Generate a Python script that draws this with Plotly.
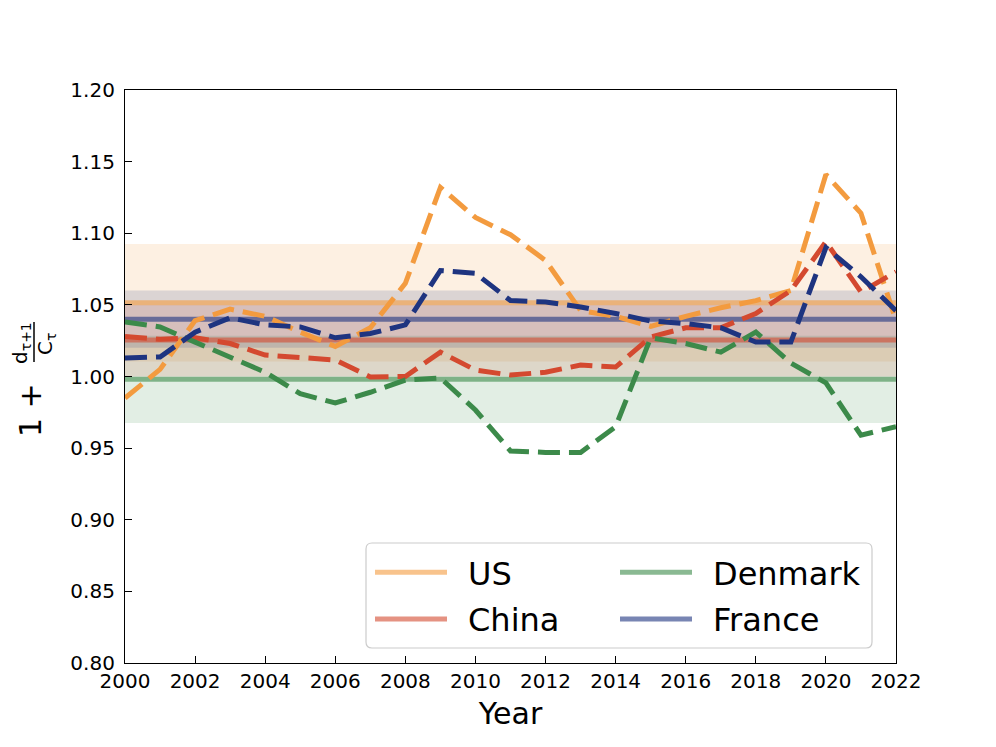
import plotly.graph_objects as go

years = list(range(2000, 2023))

us = [0.985, 1.005, 1.039, 1.047, 1.042, 1.031, 1.021, 1.034, 1.065, 1.132, 1.111, 1.099,
      1.081, 1.046, 1.042, 1.035, 1.042, 1.048, 1.053, 1.060, 1.141, 1.114, 1.039]
china = [1.028, 1.026, 1.027, 1.023, 1.015, 1.0136, 1.0115, 0.9997, 1.000, 1.017, 1.0045, 1.001,
         1.003, 1.008, 1.0066, 1.0276, 1.034, 1.034, 1.044, 1.060, 1.094, 1.059, 1.073]
denmark = [1.038, 1.0346, 1.024, 1.0136, 1.003, 0.988, 0.9815, 0.989, 0.9975, 0.999, 0.9766, 0.948,
           0.947, 0.947, 0.965, 1.027, 1.023, 1.017, 1.031, 1.0094, 0.9955, 0.959, 0.965]
france = [1.013, 1.0136, 1.031, 1.041, 1.036, 1.0346, 1.027, 1.030, 1.036, 1.074, 1.072, 1.053,
          1.052, 1.0485, 1.044, 1.0387, 1.037, 1.034, 1.024, 1.024, 1.090, 1.0696, 1.046]

countries = ["US", "China", "Denmark", "France"]
series = [us, china, denmark, france]
means = [1.0515, 1.0255, 0.998, 1.040]
band_lo = [1.0105, 1.000, 0.9675, 1.020]
band_hi = [1.0925, 1.050, 1.0285, 1.060]
colors = [(243, 155, 63), (212, 73, 47), (60, 138, 74), (30, 52, 128)]
legend_ids = ["legend", "legend", "legend2", "legend2"]

x_ticks = list(range(2000, 2023, 2))
y_ticks = [0.80, 0.85, 0.90, 0.95, 1.00, 1.05, 1.10, 1.15, 1.20]


def rgba(c, a):
    return f"rgba({c[0]},{c[1]},{c[2]},{a})"


fig = go.Figure()
x0, x1 = years[0], years[-1]

for name, lo, hi, c in zip(countries, band_lo, band_hi, colors):
    fig.add_trace(go.Scatter(x=[x0, x1, x1, x0, x0], y=[lo, lo, hi, hi, lo], fill="toself",
                             fillcolor=rgba(c, 0.15), line=dict(width=0), mode="lines",
                             hoverinfo="skip", showlegend=False))

for name, m, c, lg in zip(countries, means, colors, legend_ids):
    fig.add_trace(go.Scatter(x=[x0, x1], y=[m, m], mode="lines", name="\u2002" + name,
                             legend=lg, legendgroup=name,
                             line=dict(color=rgba(c, 0.6), width=5)))

for name, s, c in zip(countries, series, colors):
    fig.add_trace(go.Scatter(x=years, y=s, mode="lines", showlegend=False,
                             line=dict(color=rgba(c, 1), width=5, dash="22px,9px")))

# page offset of the figure inside the browser (body margin)
OFF = 8
W, H = 988, 739
L, R, T, B = 117, 100, 82, 84
pw, ph = W - L - R, H - T - B


def px2paper(px, py):
    fx, fy = px - OFF, py - OFF
    return (fx - L) / pw, (H - B - fy) / ph


font_family = "DejaVu Sans"
annotations = []


def add_label(px, py, text, size):
    ax, ay = px2paper(px, py)
    annotations.append(dict(x=ax, y=ay, xref="paper", yref="paper", text=text, showarrow=False,
                            textangle=-90, xanchor="center", yanchor="middle",
                            font=dict(size=size, family=font_family, color="black")))


add_label(30, 410, "1 +", 30)
add_label(21, 343, "d<sub>τ+1</sub>", 20)
add_label(46, 344, "C<sub>τ</sub>", 20)
bx, by0 = px2paper(34, 322)
_, by1 = px2paper(34, 362)

# legend frame (rounded rectangle)
fx0, fy1 = px2paper(366, 543)
fx1, fy0 = px2paper(872, 648)
rx = 6 / pw
ry = 6 / ph
frame_path = (f"M {fx0 + rx},{fy0} L {fx1 - rx},{fy0} Q {fx1},{fy0} {fx1},{fy0 + ry} "
              f"L {fx1},{fy1 - ry} Q {fx1},{fy1} {fx1 - rx},{fy1} "
              f"L {fx0 + rx},{fy1} Q {fx0},{fy1} {fx0},{fy1 - ry} "
              f"L {fx0},{fy0 + ry} Q {fx0},{fy0} {fx0 + rx},{fy0} Z")

l1x, l1y = px2paper(370, 545)
l2x, _ = px2paper(615, 545)

legend_common = dict(orientation="v", yanchor="top", xanchor="left", itemwidth=72,
                     font=dict(size=32), bgcolor="rgba(0,0,0,0)", borderwidth=0,
                     tracegroupgap=2)

fig.update_layout(
    width=W, height=H,
    margin=dict(l=L, r=R, t=T, b=B),
    paper_bgcolor="white", plot_bgcolor="white",
    font=dict(family=font_family, color="black"),
    annotations=annotations,
    shapes=[dict(type="line", xref="paper", yref="paper", x0=bx, x1=bx, y0=by0, y1=by1,
                 line=dict(color="black", width=1.5)),
            dict(type="path", xref="paper", yref="paper", path=frame_path, layer="above",
                 fillcolor="rgba(255,255,255,0.8)", line=dict(color="#cccccc", width=1.2))],
    xaxis=dict(range=[2000, 2022], tickvals=x_ticks, ticks="inside", ticklen=7, tickwidth=1.2,
               tickcolor="black", showline=True, linecolor="black", linewidth=1.2, mirror=True,
               showgrid=False, zeroline=False, tickfont=dict(size=20),
               title=dict(text="Year", font=dict(size=30), standoff=10)),
    yaxis=dict(range=[0.80, 1.20], tickvals=y_ticks, tickformat=".2f", ticks="inside",
               ticklen=7, tickwidth=1.2, tickcolor="black", showline=True, linecolor="black",
               linewidth=1.2, mirror=True, showgrid=False, zeroline=False,
               tickfont=dict(size=20), ticklabelstandoff=5),
    legend=dict(x=l1x, y=l1y, **legend_common),
    legend2=dict(x=l2x, y=l1y, **legend_common),
)

fig.write_html("out.html")
